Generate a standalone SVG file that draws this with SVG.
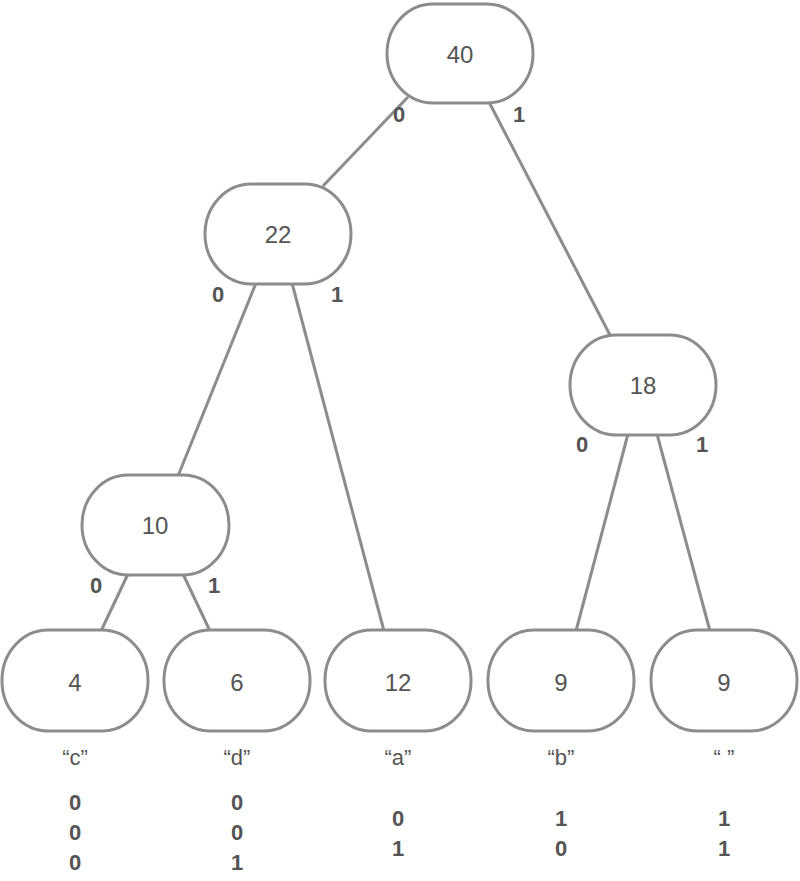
<svg xmlns="http://www.w3.org/2000/svg" width="800" height="881" viewBox="0 0 800 881">
<style>
.n{fill:#fff;stroke:#8c8c8c;stroke-width:3}
.e{stroke:#8c8c8c;stroke-width:3;fill:none}
.t{font-family:"Liberation Sans",Arial,sans-serif;font-size:24px;fill:#555;text-anchor:middle;dominant-baseline:central}
.q{font-family:"Liberation Sans",Arial,sans-serif;font-size:22px;fill:#555;text-anchor:middle;dominant-baseline:central}
.b{font-family:"Liberation Sans",Arial,sans-serif;font-size:22px;font-weight:bold;fill:#555;text-anchor:middle;dominant-baseline:central}
</style>
<rect width="800" height="881" fill="#fff"/>
<g id="connectors">
<line class="e" x1="408" y1="97" x2="323" y2="186"/>
<line class="e" x1="489" y1="102" x2="611" y2="337"/>
<line class="e" x1="256" y1="283" x2="178" y2="476"/>
<line class="e" x1="292" y1="283" x2="384" y2="631"/>
<line class="e" x1="128" y1="574" x2="101" y2="631"/>
<line class="e" x1="183" y1="574" x2="210" y2="631"/>
<line class="e" x1="628" y1="434" x2="576" y2="631"/>
<line class="e" x1="657" y1="434" x2="710" y2="631"/>
<text class="b" x="399" y="114">0</text>
<text class="b" x="519" y="114">1</text>
<text class="b" x="218" y="294">0</text>
<text class="b" x="337" y="294">1</text>
<text class="b" x="582" y="444">0</text>
<text class="b" x="702" y="444">1</text>
<text class="b" x="96" y="585">0</text>
<text class="b" x="214" y="585">1</text>
</g>
<g id="n40"><rect class="n" x="387" y="4" width="146" height="99" rx="46" ry="50"/><text class="t" x="460" y="54">40</text></g>
<g id="n22"><rect class="n" x="205" y="184" width="146" height="100" rx="46" ry="50"/><text class="t" x="278" y="234">22</text></g>
<g id="n18"><rect class="n" x="570" y="335" width="146" height="100" rx="46" ry="50"/><text class="t" x="643" y="385">18</text></g>
<g id="n10"><rect class="n" x="82" y="475" width="147" height="100" rx="46" ry="50"/><text class="t" x="155" y="525">10</text></g>
<g id="leafc"><rect class="n" x="2" y="630" width="146" height="101" rx="46" ry="50"/><text class="t" x="75" y="682">4</text>
<text class="q" x="75" y="757">“c”</text><text class="b" x="75" y="802">0</text><text class="b" x="75" y="832">0</text><text class="b" x="75" y="862">0</text></g>
<g id="leafd"><rect class="n" x="164" y="630" width="146" height="101" rx="46" ry="50"/><text class="t" x="237" y="682">6</text>
<text class="q" x="237" y="757">“d”</text><text class="b" x="237" y="802">0</text><text class="b" x="237" y="832">0</text><text class="b" x="237" y="862">1</text></g>
<g id="leafa"><rect class="n" x="325" y="630" width="146" height="101" rx="46" ry="50"/><text class="t" x="398" y="682">12</text>
<text class="q" x="398" y="757">“a”</text><text class="b" x="398" y="818">0</text><text class="b" x="398" y="848">1</text></g>
<g id="leafb"><rect class="n" x="488" y="630" width="146" height="101" rx="46" ry="50"/><text class="t" x="561" y="682">9</text>
<text class="q" x="561" y="757">“b”</text><text class="b" x="561" y="818">1</text><text class="b" x="561" y="848">0</text></g>
<g id="leafsp"><rect class="n" x="651" y="630" width="146" height="101" rx="46" ry="50"/><text class="t" x="724" y="682">9</text>
<text class="q" x="724" y="757" xml:space="preserve">“ ”</text><text class="b" x="724" y="818">1</text><text class="b" x="724" y="848">1</text></g>
</svg>
